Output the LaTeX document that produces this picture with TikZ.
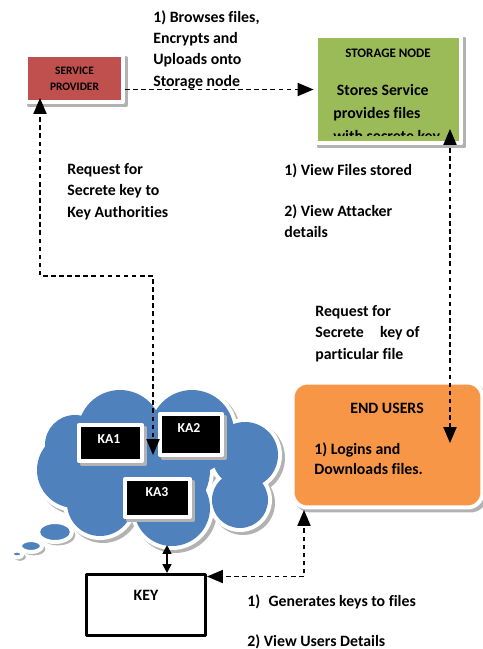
\documentclass[tikz,border=0pt]{standalone}
\usepackage{fontspec}
\setmainfont{Carlito}[Ligatures={NoCommon}]
\usetikzlibrary{arrows,arrows.meta,shadows}
\definecolor{spred}{HTML}{C0504D}
\definecolor{stgreen}{HTML}{9BBB59}
\definecolor{euorange}{HTML}{F79646}
\definecolor{kablue}{HTML}{4F81BD}
\newcommand{\lbl}{\fontsize{9}{12.2}\selectfont\bfseries}
\newcommand{\puffs}{75/470/38,75/445/30,120/432/42,192/432/42,245/455/33,240/500/28,172/508/38,100/503/33,160/470/50}
\begin{document}
\begin{tikzpicture}[x=0.02cm,y=-0.02cm,>=triangle 45,line join=round,
  framed/.style={draw=white,line width=0.08cm,copy shadow={shadow xshift=0.06cm,shadow yshift=-0.06cm,fill=black!30,draw=black!30}},
  flow/.style={line width=1.1pt,dash pattern=on 2.6pt off 2pt},
  txt/.style={font=\lbl,align=left,inner sep=0pt,anchor=north west},
  kabox/.style={framed,fill=black,minimum width=1.26cm,minimum height=0.72cm},
  katext/.style={font=\fontsize{7.8}{9}\selectfont\bfseries,text=white}]
\useasboundingbox (0,0) rectangle (483,649);
% boxes
\node[framed,fill=spred,minimum width=1.94cm,minimum height=0.94cm,
  font=\fontsize{6.5}{9}\selectfont\bfseries,align=center] (sp) at (74.5,78.5) {SERVICE\\PROVIDER};
\node[framed,fill=stgreen,minimum width=2.92cm,minimum height=2.16cm] (st) at (388.5,89.5) {};
\node[font=\fontsize{7.4}{9}\selectfont\bfseries] (sttitle) at (388,53) {STORAGE NODE};
\begin{scope}
  \clip (318,37) rectangle (459,135);
  \node[txt,font=\fontsize{9}{13}\selectfont\bfseries] (stbody) at (333,84) {\ Stores Service\\provides files\\with secrete key};
\end{scope}
\node[framed,fill=euorange,rounded corners=0.3cm,minimum width=3.8cm,minimum height=2.5cm] (eu) at (387.5,445) {};
\node[font=\lbl] (eutitle) at (387,408) {END USERS};
\node[txt,font=\fontsize{9}{11.4}\selectfont\bfseries] (eubody) at (314,442) {1) Logins and\\Downloads files.};
% key authorities cloud
\foreach \cx/\cy/\r in \puffs \fill[black!30] (\cx+3,\cy+3) circle[radius=\r+4];
\foreach \cx/\cy/\r in \puffs \fill[white] (\cx,\cy) circle[radius=\r+4];
\foreach \cx/\cy/\r in \puffs \fill[kablue] (\cx,\cy) circle[radius=\r];
\draw[framed,fill=kablue] (55,532) ellipse [x radius=0.34cm,y radius=0.2cm];
\draw[framed,fill=kablue] (31,546) ellipse [x radius=0.22cm,y radius=0.12cm];
\draw[framed,fill=kablue] (17,554) ellipse [x radius=0.11cm,y radius=0.07cm];
\node[kabox] (ka1) at (110.5,443) {};
\node[kabox,minimum width=1.24cm,minimum height=0.82cm] (ka2) at (191,434.5) {};
\node[kabox,minimum width=1.3cm,minimum height=0.76cm] (ka3) at (157.5,498) {};
\node[katext] (ka1t) at (109,439) {KA1};
\node[katext] (ka2t) at (189,428) {KA2};
\node[katext] (ka3t) at (157,492) {KA3};
\node[draw,line width=0.06cm,fill=white,minimum width=2.38cm,minimum height=1.22cm] (key) at (146,605) {};
\node[font=\lbl] (keyt) at (146,595) {KEY};
% connectors
\coordinate (sptip) at (40,98);
\coordinate (katip) at (153,455);
\coordinate (sttip) at (450,129);
\coordinate (eutip) at (450,443);
\coordinate (cloudtip) at (167,545);
\coordinate (eutip2) at (304,510);
\draw[flow,->] (sp.east |- st.west) -- (st.west);
\draw[flow,<->] (sptip) -- ++(0,178) -| (katip);
\draw[flow,<->] (sttip) -- (eutip);
\draw[flow,<->] ([yshift=-2pt]key.north east) -| (eutip2);
\draw[{Triangle[length=5pt,width=5pt]}-{Triangle[length=5pt,width=5pt]},line width=1pt] (cloudtip) -- (cloudtip |- key.north);
% labels
\node[txt] (uplabel) at (153,10) {1) Browses files,\\Encrypts and\\Uploads onto\\Storage node};
\node[txt] (reqka) at (67,163) {Request for\\Secrete key to\\Key Authorities};
\node[txt] (viewfiles) at (284,163) {1) View Files stored};
\node[txt] (viewatt) at (284,204) {2) View Attacker\\details};
\node[txt] (reqfile) at (315,305) {Request for\\Secrete\hspace{0.8em} key of\\particular file};
\node[txt] (genkeys) at (247,594) {1)\hspace{0.3em} Generates keys to files};
\node[txt] (viewusers) at (247,634) {2) View Users Details};
\end{tikzpicture}
\end{document}
